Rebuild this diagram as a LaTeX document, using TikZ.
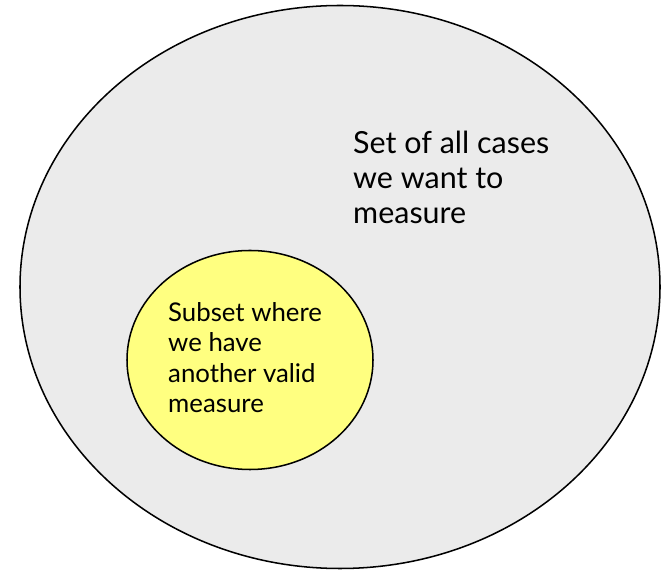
\documentclass[tikz,border=0pt]{standalone}
\usepackage{fontspec}
\setmainfont{Lato}
\usetikzlibrary{shapes.geometric}

\definecolor{setgray}{RGB}{235,235,235}
\definecolor{subyellow}{RGB}{255,255,128}

\tikzset{
  setbox/.style={ellipse,draw=black,line width=1.3pt,inner sep=0pt},
  settext/.style={align=left,inner sep=0pt,anchor=north west}
}

\begin{document}
\begin{tikzpicture}[x=0.03cm,y=-0.03cm]
            \useasboundingbox (0,0) rectangle (665,573);

            \node (all) at (340,287) [setbox,fill=setgray,minimum width=640*0.03cm,minimum height=563*0.03cm] {};
            \node (sub) at (250,360) [setbox,fill=subyellow,minimum width=246*0.03cm,minimum height=219*0.03cm] {};

            \node (alltext) at (353,131) [settext,font=\fontsize{26}{29.8}\selectfont] {Set of all cases\\we want to\\measure};
            \node (subtext) at (168,302) [settext,font=\fontsize{22}{26.1}\selectfont] {Subset where\\we have\\another valid\\measure};

        \end{tikzpicture}
\end{document}
